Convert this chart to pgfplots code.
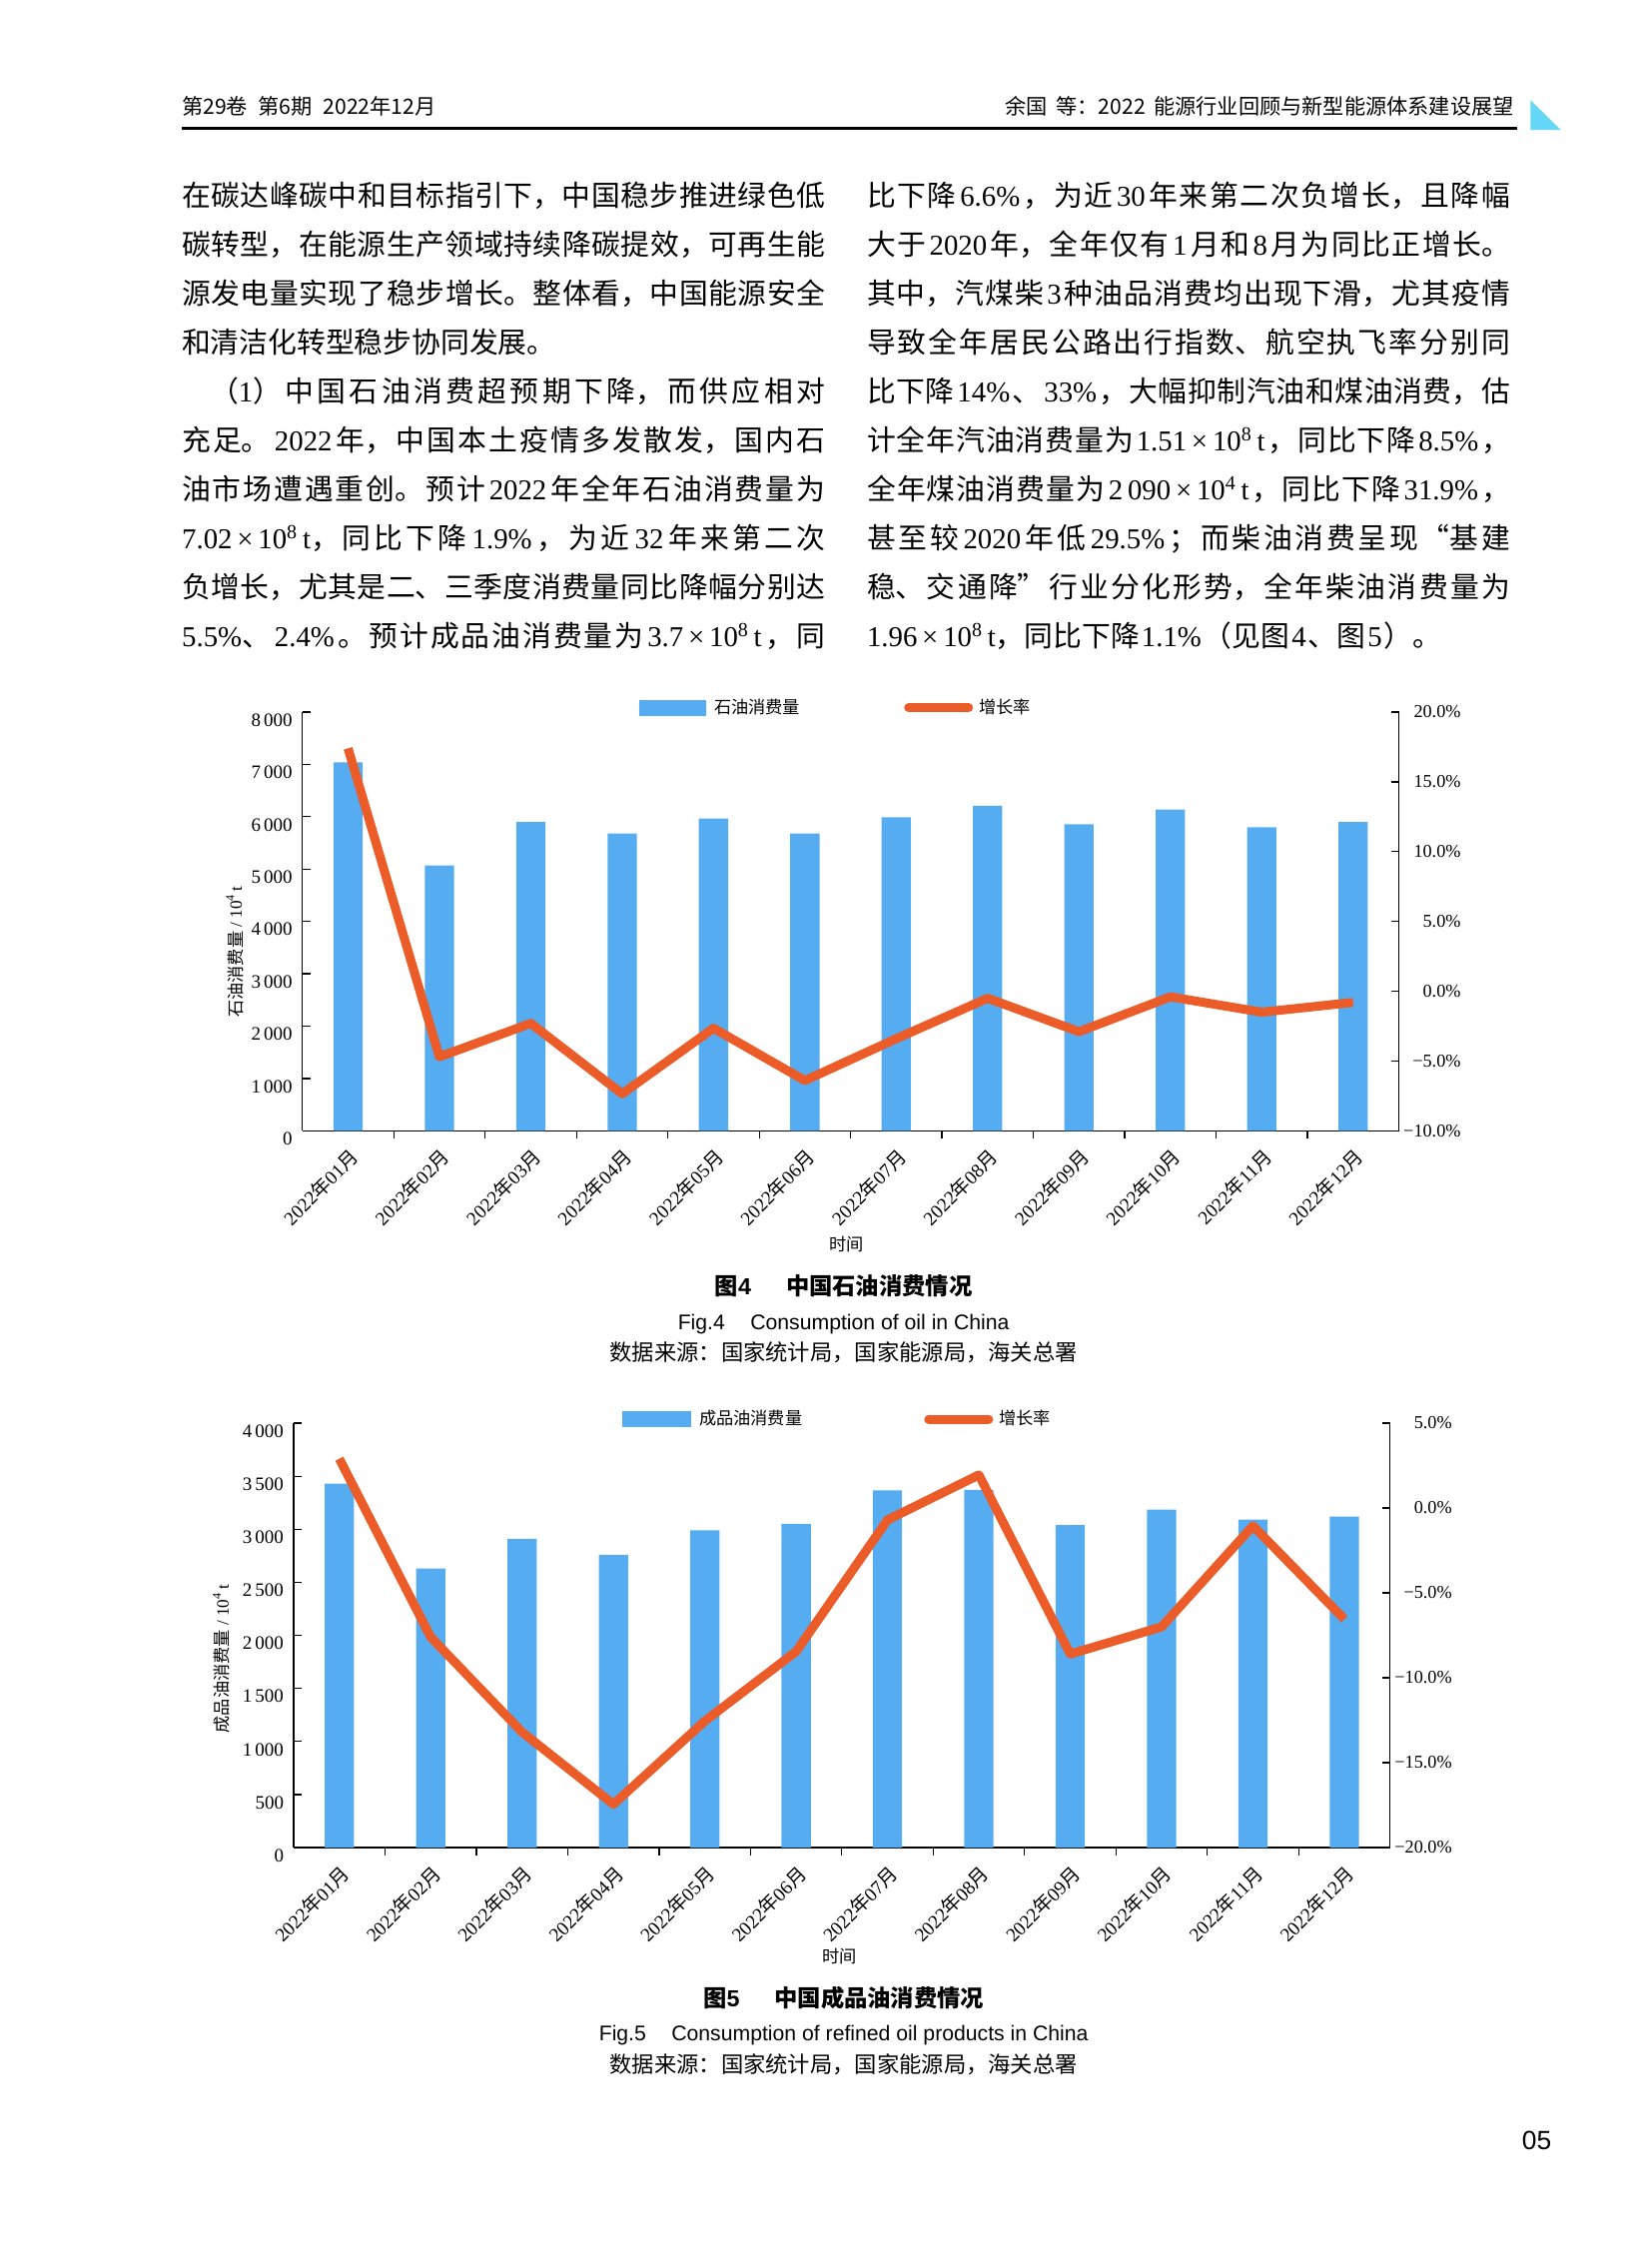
\documentclass[border=0pt]{standalone}
\usepackage{fontspec}
\setmainfont{Noto Sans CJK SC}
\newfontfamily\tm{Liberation Serif}
\newfontfamily\ar{Liberation Sans}
\usepackage{pgfplots}
\pgfplotsset{compat=1.18}
\definecolor{barblue}{RGB}{86,172,240}
\definecolor{lineorange}{RGB}{236,92,40}
\definecolor{tricyan}{RGB}{100,216,246}
\XeTeXlinebreaklocale "zh"
\XeTeXlinebreakskip=0pt plus 2pt minus 0.2pt
\newcommand\m[1]{\hskip 1pt plus 2pt{\tm #1}\hskip 1pt plus 2pt}
\newcommand\e[1]{\textsuperscript{#1}}
\newcommand\body{\fontsize{14.4}{20}\selectfont}
% one justified line: a one-line paragraph with no fill at its end
\newcommand\jl[1]{\parbox[b]{322pt}{\body\parindent=0pt\parfillskip=0pt\tolerance=10000 #1}}
\newcommand\nl[1]{\hbox{\body #1}}
\newcommand\mo[1]{{\tm 2022}年{\tm #1}月}
\pgfplotsset{
  base/.style={scale only axis, anchor=south west, xmin=0.5, xmax=12.5,
    enlargelimits=false, clip=false,
    axis line style={line width=0.6pt,-},
    tick style={line width=0.6pt,black},
    major tick length=4pt, minor tick length=4pt},
  barside/.style={base, ybar, bar width=0.32,
    axis y line*=left, axis x line*=bottom,
    yticklabel style={font=\tm\fontsize{9.5}{11}\selectfont, inner sep=0pt, xshift=-4.8pt, yshift=-4pt},
    xtick={1,...,12},
    xticklabels={\mo{01},\mo{02},\mo{03},\mo{04},\mo{05},\mo{06},\mo{07},\mo{08},\mo{09},\mo{10},\mo{11},\mo{12}},
    xticklabel style={font=\fontsize{9.6}{11}\selectfont, inner sep=0pt, yshift=-4pt, rotate=45, anchor=north east},
    major x tick style={draw=none},
    minor xtick={1.5,2.5,...,11.5},
    legend style={draw=none, fill=none, inner sep=0pt, anchor=west,
      font=\fontsize{8.6}{10}\selectfont, nodes={inner sep=1pt}},
    legend image code/.code={\fill[barblue] (0pt,-3.9pt) rectangle (33.5pt,3.9pt);}},
  lineside/.style={base, axis y line*=right, axis x line=none,
    yticklabel style={font=\tm\fontsize{9.1}{11}\selectfont, inner sep=0pt, anchor=west,
      text width=34pt, align=right, xshift=-3.2pt},
    legend style={draw=none, fill=none, inner sep=0pt, anchor=west,
      font=\fontsize{8.6}{10}\selectfont, nodes={inner sep=1pt}},
    legend image code/.code={\draw[lineorange, line width=4.5pt, line cap=round] (2.25pt,0pt) -- (32.25pt,0pt);}}
}
\begin{document}
\begin{tikzpicture}[x=0.5064pt,y=-0.5064pt]
\useasboundingbox (0pt,0pt) rectangle (827pt,-1122.5pt);
% header
\node[anchor=base west, inner sep=0, font=\fontsize{10.6}{12}\selectfont] at (179.5,113) {第29卷\hspace{0.5em}第6期\hspace{0.5em}2022年12月};
\node[anchor=base east, inner sep=0, font=\fontsize{10.6}{12}\selectfont] at (1497,113) {余国\hspace{0.4em}等：2022\hspace{0.4em}能源行业回顾与新型能源体系建设展望};
\draw[line width=1.4pt] (179.5,127) -- (1500,127);
\fill[tricyan] (1513,99) -- (1513,128.5) -- (1543,128.5) -- cycle;

% left column
\begin{scope}[every node/.style={anchor=base west, inner sep=0}]
\node at (179.5,204.3) {\jl{在碳达峰碳中和目标指引下，中国稳步推进绿色低}};
\node at (179.5,252.65) {\jl{碳转型，在能源生产领域持续降碳提效，可再生能}};
\node at (179.5,301.0) {\jl{源发电量实现了稳步增长。整体看，中国能源安全}};
\node at (179.5,349.35) {\nl{和清洁化转型稳步协同发展。}};
\node at (179.5,397.7) {\jl{\hskip 14pt（{\tm 1}）中国石油消费超预期下降，而供应相对}};
\node at (179.5,446.05) {\jl{充足。\m{2022}年，中国本土疫情多发散发，国内石}};
\node at (179.5,494.4) {\jl{油市场遭遇重创。预计\m{2022}年全年石油消费量为}};
\node at (179.5,542.75) {\jl{{\tm 7.02\,×\,10\e{8}\,t}，同比下降\m{1.9\%}，为近\m{32}年来第二次}};
\node at (179.5,591.1) {\jl{负增长，尤其是二、三季度消费量同比降幅分别达}};
\node at (179.5,639.45) {\jl{{\tm 5.5\%}、\m{2.4\%}。预计成品油消费量为\m{3.7\,×\,10\e{8}\,t}，同}};
% right column
\node at (856.7,204.3) {\jl{比下降\m{6.6\%}，为近\m{30}年来第二次负增长，且降幅}};
\node at (856.7,252.65) {\jl{大于\m{2020}年，全年仅有\m{1}月和\m{8}月为同比正增长。}};
\node at (856.7,301.0) {\jl{其中，汽煤柴\m{3}种油品消费均出现下滑，尤其疫情}};
\node at (856.7,349.35) {\jl{导致全年居民公路出行指数、航空执飞率分别同}};
\node at (856.7,397.7) {\jl{比下降\m{14\%}、\m{33\%}，大幅抑制汽油和煤油消费，估}};
\node at (856.7,446.05) {\jl{计全年汽油消费量为\m{1.51\,×\,10\e{8}\,t}，同比下降\m{8.5\%}，}};
\node at (856.7,494.4) {\jl{全年煤油消费量为\m{2\,090\,×\,10\e{4}\,t}，同比下降\m{31.9\%}，}};
\node at (856.7,542.75) {\jl{甚至较\m{2020}年低\m{29.5\%}；而柴油消费呈现“基建}};
\node at (856.7,591.1) {\jl{稳、交通降”行业分化形势，全年柴油消费量为}};
\node at (856.7,639.45) {\nl{{\tm 1.96\,×\,10\e{8}\,t}，同比下降\m{1.1\%}（见图\m{4}、图\m{5}）。}};
\end{scope}

% ---------- Fig. 4 ----------
\begin{axis}[barside, at={(151.35pt,-566.15pt)}, width=548.9pt, height=209.65pt,
  ymin=0, ymax=8000, ytick={0,1000,...,8000},
  yticklabels={0,1\,000,2\,000,3\,000,4\,000,5\,000,6\,000,7\,000,8\,000},
  legend style={at={(0.307,1.0103)}}]
\addplot[fill=barblue, draw=none] coordinates {
  (1,7040) (2,5070) (3,5900) (4,5680) (5,5965) (6,5680)
  (7,5990) (8,6210) (9,5855) (10,6140) (11,5800) (12,5900)};
\addlegendentry{\hspace{3pt}石油消费量}
\end{axis}
\begin{axis}[lineside, at={(151.35pt,-566.15pt)}, width=548.9pt, height=209.65pt,
  ymin=-10, ymax=20, ytick={-10,-5,...,20},
  yticklabels={−10.0\%,−5.0\%,0.0\%,5.0\%,10.0\%,15.0\%,20.0\%},
  legend style={at={(0.5485,1.0103)}}]
\addplot[lineorange, line width=4.5pt, line join=round] coordinates {
  (1,17.4) (2,-4.7) (3,-2.3) (4,-7.35) (5,-2.65) (6,-6.4)
  (7,-3.4) (8,-0.5) (9,-2.9) (10,-0.4) (11,-1.5) (12,-0.8)};
\addlegendentry{\hspace{2pt}增长率}
\end{axis}
\node[rotate=90, font=\fontsize{8.6}{10}\selectfont] at (232,941) {石油消费量{\tm\ /\ 10\e{4}\,t}};
\node[font=\fontsize{8.6}{10}\selectfont] at (837,1230) {时间};
\node[font=\bfseries\fontsize{11.65}{13}\selectfont] at (834,1271) {图{\ar\bfseries 4}\hspace{1.5em}中国石油消费情况};
\node[font=\ar\fontsize{10.6}{12}\selectfont] at (834,1309) {Fig.4\hspace{1.2em}Consumption of oil in China};
\node[font=\fontsize{11.15}{12}\selectfont] at (834,1337) {数据来源：国家统计局，国家能源局，海关总署};

% ---------- Fig. 5 ----------
\begin{axis}[barside, at={(147pt,-925pt)}, width=548.85pt, height=212.5pt,
  ymin=0, ymax=4000, ytick={0,500,...,4000},
  yticklabels={0,500,1\,000,1\,500,2\,000,2\,500,3\,000,3\,500,4\,000},
  legend style={at={(0.2995,1.0094)}},
  legend image code/.code={\fill[barblue] (0pt,-4pt) rectangle (34.5pt,4pt);}]
\addplot[fill=barblue, draw=none] coordinates {
  (1,3430) (2,2630) (3,2910) (4,2760) (5,2990) (6,3050)
  (7,3365) (8,3370) (9,3040) (10,3185) (11,3090) (12,3120)};
\addlegendentry{\hspace{3pt}成品油消费量}
\end{axis}
\begin{axis}[lineside, at={(147pt,-925pt)}, width=548.85pt, height=212.5pt,
  ymin=-20, ymax=5, ytick={-20,-15,...,5},
  yticklabels={−20.0\%,−15.0\%,−10.0\%,−5.0\%,0.0\%,5.0\%},
  legend style={at={(0.5748,1.0094)}}]
\addplot[lineorange, line width=4.5pt, line join=round] coordinates {
  (1,2.9) (2,-7.6) (3,-13.2) (4,-17.45) (5,-12.55) (6,-8.45)
  (7,-0.7) (8,1.95) (9,-8.6) (10,-7.0) (11,-1.05) (12,-6.55)};
\addlegendentry{\hspace{2pt}增长率}
\end{axis}
\node[rotate=90, font=\fontsize{8.6}{10}\selectfont] at (219,1640) {成品油消费量{\tm\ /\ 10\e{4}\,t}};
\node[font=\fontsize{8.6}{10}\selectfont] at (830,1934) {时间};
\node[font=\bfseries\fontsize{11.65}{13}\selectfont] at (834,1975) {图{\ar\bfseries 5}\hspace{1.5em}中国成品油消费情况};
\node[font=\ar\fontsize{10.6}{12}\selectfont] at (834,2012) {Fig.5\hspace{1.2em}Consumption of refined oil products in China};
\node[font=\fontsize{11.15}{12}\selectfont] at (834,2041) {数据来源：国家统计局，国家能源局，海关总署};

\node[anchor=base east, inner sep=0, font=\ar\fontsize{13.2}{14}\selectfont] at (1534,2125) {05};
\end{tikzpicture}
\end{document}
